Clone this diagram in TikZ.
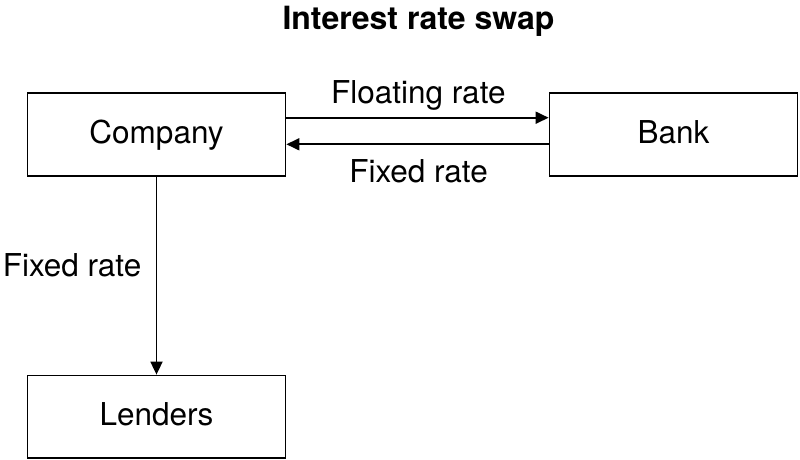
\documentclass[tikz,border=0pt]{standalone}
\usepackage{fontspec}
\setmainfont{TeX Gyre Heros}
\usetikzlibrary{arrows.meta}
\tikzset{
  boxnode/.style={draw, line width=1.8pt, inner sep=0pt, text height=22pt, text depth=5pt,
    font=\fontsize{31.5}{36}\selectfont},
  lbl/.style={anchor=base, inner sep=0pt, font=\fontsize{31.5}{36}\selectfont},
  conn/.style={line width=1.8pt, -{Triangle[length=13pt,width=12pt]}}
}
\begin{document}
\begin{tikzpicture}[x=1pt,y=-1pt]
\useasboundingbox (0,0) rectangle (800,460);
\node[anchor=base, inner sep=0pt, font=\fontsize{32}{36}\selectfont\bfseries] (title) at (418.5,30) {Interest rate swap};
\node[boxnode, minimum width=258pt, minimum height=83pt] (company) at (156.5,134.5) {Company};
\node[boxnode, minimum width=248pt, minimum height=83pt] (bank) at (673.5,134.5) {Bank};
\node[boxnode, minimum width=258pt, minimum height=82.5pt] (lenders) at (156.5,416.75) {Lenders};
\draw[conn] ([yshift=16.8pt]company.east) -- ([yshift=16.8pt]bank.west);
\draw[conn] ([yshift=-9.8pt]bank.west) -- ([yshift=-9.8pt]company.east);
\draw[conn] (company.south) -- (lenders.north);
\node[lbl] (float) at (418.3,103) {Floating rate};
\node[lbl] (fixmid) at (418.5,182) {Fixed rate};
\node[lbl] (fixleft) at (72,276) {Fixed rate};
\end{tikzpicture}
\end{document}
